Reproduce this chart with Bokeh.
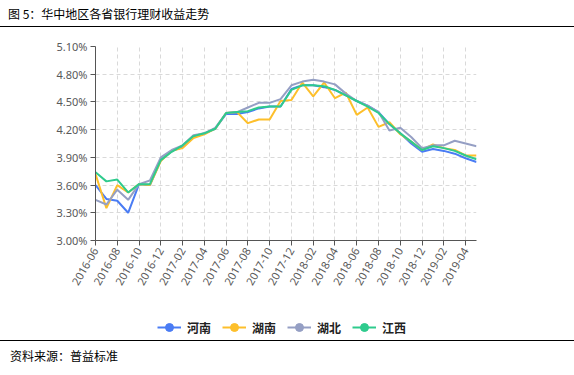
import math
from bokeh.plotting import figure
from bokeh.models import Range1d, FixedTicker, PrintfTickFormatter, Legend, LegendItem, Div, ColumnDataSource
from bokeh.layouts import column
from bokeh.embed import file_html
from bokeh.resources import INLINE

title_text = "图 5：华中地区各省银行理财收益走势"
source_text = "资料来源：普益标准"

months = [
    "2016-06", "2016-07", "2016-08", "2016-09", "2016-10", "2016-11", "2016-12",
    "2017-01", "2017-02", "2017-03", "2017-04", "2017-05", "2017-06", "2017-07",
    "2017-08", "2017-09", "2017-10", "2017-11", "2017-12", "2018-01", "2018-02",
    "2018-03", "2018-04", "2018-05", "2018-06", "2018-07", "2018-08", "2018-09",
    "2018-10", "2018-11", "2018-12", "2019-01", "2019-02", "2019-03", "2019-04",
    "2019-05",
]

series_names = ["河南", "湖南", "湖北", "江西"]

henan = [3.60, 3.45, 3.43, 3.30, 3.61, 3.60, 3.87, 3.97, 4.01, 4.12, 4.16, 4.21,
         4.37, 4.37, 4.39, 4.43, 4.45, 4.45, 4.64, 4.68, 4.68, 4.66, 4.63, 4.57,
         4.51, 4.46, 4.39, 4.26, 4.16, 4.05, 3.96, 3.99, 3.97, 3.94, 3.89, 3.85]
hunan = [3.72, 3.35, 3.60, 3.52, 3.61, 3.60, 3.86, 3.97, 4.00, 4.11, 4.15, 4.21,
         4.38, 4.39, 4.27, 4.31, 4.31, 4.51, 4.52, 4.71, 4.56, 4.71, 4.54, 4.60,
         4.36, 4.44, 4.23, 4.28, 4.15, 4.07, 3.98, 4.04, 4.00, 3.98, 3.92, 3.92]
hubei = [3.44, 3.39, 3.55, 3.44, 3.61, 3.65, 3.90, 3.98, 4.03, 4.14, 4.16, 4.22,
         4.38, 4.39, 4.44, 4.49, 4.49, 4.53, 4.68, 4.72, 4.74, 4.72, 4.69, 4.59,
         4.51, 4.46, 4.39, 4.19, 4.22, 4.12, 4.00, 4.03, 4.03, 4.08, 4.05, 4.02]
jiangxi = [3.74, 3.64, 3.66, 3.52, 3.61, 3.61, 3.87, 3.96, 4.03, 4.13, 4.16, 4.21,
           4.38, 4.39, 4.40, 4.44, 4.45, 4.45, 4.63, 4.68, 4.68, 4.67, 4.63, 4.57,
           4.51, 4.45, 4.38, 4.26, 4.16, 4.07, 3.98, 4.02, 4.00, 3.97, 3.92, 3.88]

y_ticks = [3.00, 3.30, 3.60, 3.90, 4.20, 4.50, 4.80, 5.10]

colors = ["#4A7CF4", "#FDBF2B", "#959FC4", "#2ECB8D"]
cols = ["henan", "hunan", "hubei", "jiangxi"]

x_idx = list(range(len(months)))
src = ColumnDataSource(dict(x=x_idx, henan=henan, hunan=hunan, hubei=hubei, jiangxi=jiangxi))

W = 574
p = figure(frame_width=381, frame_height=194, output_backend="svg", toolbar_location=None,
           x_range=Range1d(0, len(months) - 1), y_range=Range1d(y_ticks[0], y_ticks[-1]),
           min_border_left=95, min_border_right=98, min_border_top=19,
           min_border_bottom=60)
p.outline_line_color = None
p.background_fill_color = "white"
p.border_fill_color = "white"

for col, c in zip(cols, colors):
    p.line("x", col, source=src, line_color=c, line_width=2)

even_ticks = x_idx[::2]
p.xaxis.ticker = FixedTicker(ticks=even_ticks)
p.xaxis.major_label_overrides = {i: months[i] for i in even_ticks}
p.xaxis.major_label_orientation = math.pi / 3
p.yaxis.ticker = FixedTicker(ticks=y_ticks)
p.yaxis.formatter = PrintfTickFormatter(format="%.2f%%")

for ax in (p.xaxis, p.yaxis):
    ax.axis_line_color = "#555555"
    ax.axis_line_width = 1
    ax.major_tick_line_color = "#555555"
    ax.major_tick_out = 5
    ax.major_tick_in = 0
    ax.minor_tick_line_color = None
    ax.major_label_text_font = "Noto Sans"
    ax.major_label_text_font_size = "11px"
    ax.major_label_text_color = "#595959"
    ax.major_label_standoff = 3

p.xgrid.ticker = FixedTicker(ticks=even_ticks)
p.ygrid.ticker = FixedTicker(ticks=y_ticks)
for g in (p.xgrid, p.ygrid):
    g.grid_line_color = "#d9d9d9"
    g.grid_line_dash = "4 3"
    g.grid_line_width = 1

# legend strip: same series drawn in a view range that hides them, only the legend shows
lg = figure(width=W, height=40, output_backend="svg", toolbar_location=None,
            x_range=Range1d(-100, -90), y_range=Range1d(y_ticks[0], y_ticks[-1]),
            x_axis_location=None, y_axis_location=None, min_border=0)
lg.grid.visible = False
lg.outline_line_color = None
items = []
for name, col, c in zip(series_names, cols, colors):
    r1 = lg.line("x", col, source=src, line_color=c, line_width=2)
    r2 = lg.scatter("x", col, source=src, size=8, marker="circle", fill_color=c, line_color=c)
    items.append(LegendItem(label=name, renderers=[r1, r2]))
legend = Legend(items=items, orientation="horizontal", location=(62, 3),
                glyph_width=24, glyph_height=20, label_standoff=6, spacing=11,
                label_text_font="Noto Sans CJK SC", label_text_font_size="12px",
                label_text_color="#222222", label_text_font_style="bold",
                background_fill_alpha=0, border_line_color=None, margin=0, padding=0)
lg.add_layout(legend)

title_div = Div(text=title_text, width=W, height=27,
                styles={"font-family": "Noto Sans CJK SC", "font-size": "12px",
                        "line-height": "13px", "color": "#000000",
                        "border-bottom": "1px solid #000000", "padding": "7px 0 0 8px",
                        "margin": "0", "box-sizing": "border-box"})
source_div = Div(text=source_text, width=W, height=35,
                 styles={"font-family": "Noto Sans CJK SC", "font-size": "12px",
                         "line-height": "13px", "color": "#000000",
                         "border-top": "1px solid #000000", "padding": "8px 0 0 10px",
                         "margin": "0", "box-sizing": "border-box"})

layout = column(title_div, p, lg, source_div, spacing=0)
open("out.html", "w").write(file_html(layout, INLINE))
